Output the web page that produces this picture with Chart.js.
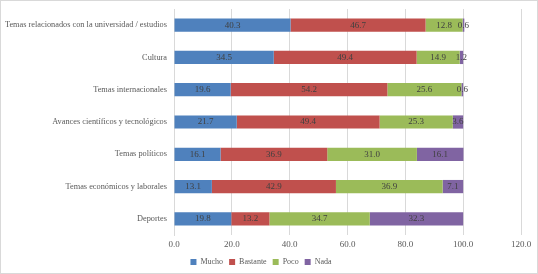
<!DOCTYPE html>
<html>
<head>
<meta charset="utf-8">
<script src="https://cdn.jsdelivr.net/npm/chart.js@4"></script>
<style>
  html, body { margin: 0; padding: 0; background: #fff; }
  #wrap { position: relative; width: 536px; height: 272px; border: 1px solid #d9d9d9; }
</style>
</head>
<body>
<div id="wrap"><canvas id="chart" width="536" height="272"></canvas></div>
<script>
const categories = [
  "Temas relacionados con la universidad / estudios",
  "Cultura",
  "Temas internacionales",
  "Avances científicos y tecnológicos",
  "Temas políticos",
  "Temas económicos y laborales",
  "Deportes"
];
const mucho    = [40.3, 34.5, 19.6, 21.7, 16.1, 13.1, 19.8];
const bastante = [46.7, 49.4, 54.2, 49.4, 36.9, 42.9, 13.2];
const poco     = [12.8, 14.9, 25.6, 25.3, 31.0, 36.9, 34.7];
const nada     = [0.6, 1.2, 0.6, 3.6, 16.1, 7.1, 32.3];
const xTicks   = [0, 20, 40, 60, 80, 100, 120];

const fontFam = "'Liberation Serif', 'DejaVu Serif', serif";

const labelPlugin = {
  id: "barLabels",
  afterDatasetsDraw(chart) {
    const ctx = chart.ctx;
    ctx.save();
    ctx.font = "9px " + fontFam;
    ctx.fillStyle = "#404040";
    ctx.textAlign = "center";
    ctx.textBaseline = "middle";
    chart.data.datasets.forEach((ds, i) => {
      chart.getDatasetMeta(i).data.forEach((bar, j) => {
        const x = (bar.x + bar.base) / 2;
        ctx.fillText(ds.data[j].toFixed(1), x, bar.y);
      });
    });
    ctx.restore();
  }
};

const data = {
  labels: categories,
  datasets: [
    { label: "Mucho", data: mucho, backgroundColor: "#4F81BD" },
    { label: "Bastante", data: bastante, backgroundColor: "#C0504D" },
    { label: "Poco", data: poco, backgroundColor: "#9BBB59" },
    { label: "Nada", data: nada, backgroundColor: "#8064A2" }
  ]
};

new Chart(document.getElementById("chart"), {
  type: "bar",
  data: data,
  plugins: [labelPlugin],
  options: {
    indexAxis: "y",
    responsive: false,
    animation: false,
    devicePixelRatio: 1,
    layout: { padding: { top: 8, right: 16, left: 0, bottom: -3 } },
    datasets: { bar: { categoryPercentage: 0.41, barPercentage: 1 } },
    scales: {
      x: {
        stacked: true,
        min: 0,
        max: 120,
        afterBuildTicks(scale) { scale.ticks = xTicks.map(v => ({ value: v })); },
        afterFit(scale) { scale.height = 17; },
        grid: { color: "#d9d9d9", drawTicks: false },
        border: { display: false },
        ticks: {
          padding: 4,
          color: "#595959",
          font: { family: fontFam, size: 9 },
          callback: v => Number(v).toFixed(1)
        }
      },
      y: {
        stacked: true,
        afterFit(scale) {
          scale.width = 173;
          scale.paddingTop = 0;
          scale.paddingBottom = 0;
        },
        grid: { display: false, drawTicks: false },
        border: { color: "#d9d9d9" },
        ticks: {
          padding: 7,
          color: "#595959",
          font: { family: fontFam, size: 8.3 }
        }
      }
    },
    plugins: {
      tooltip: { enabled: false },
      legend: {
        position: "bottom",
        labels: {
          boxWidth: 6,
          boxHeight: 6,
          padding: 6,
          color: "#595959",
          font: { family: fontFam, size: 8 }
        }
      }
    }
  }
});
</script>
</body>
</html>
